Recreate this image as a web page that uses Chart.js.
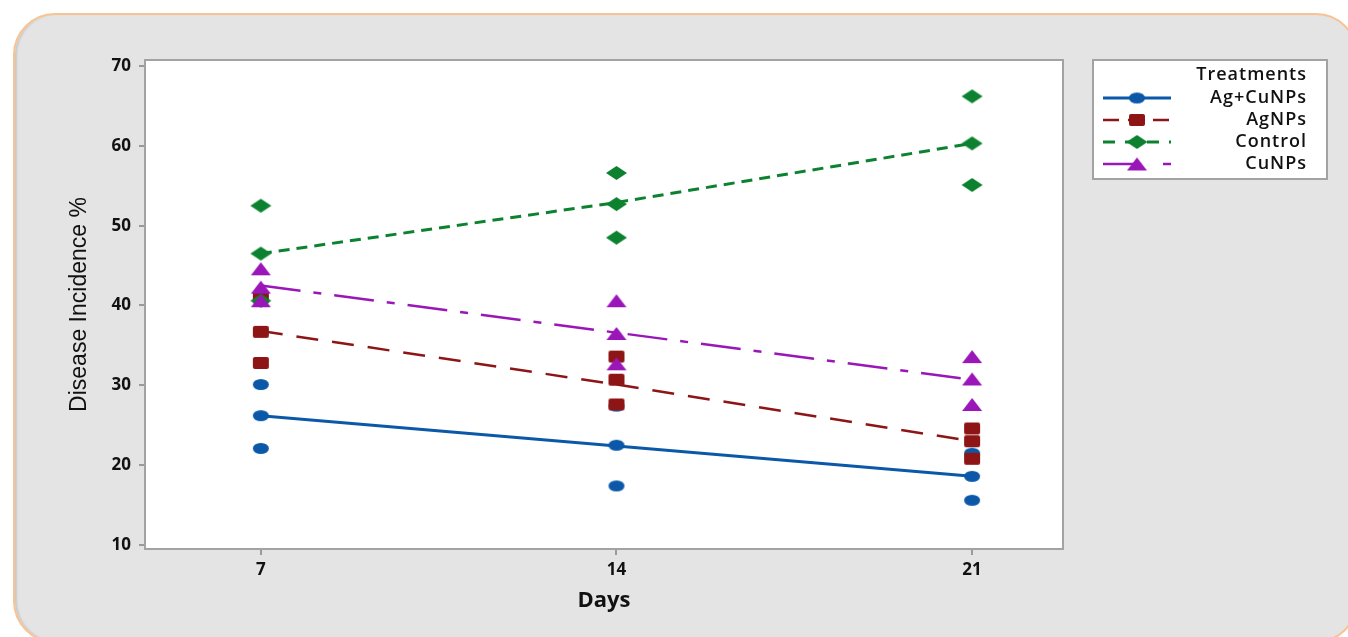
<!DOCTYPE html>
<html>
<head>
<meta charset="utf-8">
<script src="https://cdn.jsdelivr.net/npm/chart.js@4.4.0/dist/chart.umd.min.js"></script>
<style>
html, body { margin: 0; padding: 0; background: #fff; width: 1348px; height: 637px; overflow: hidden; }
#panel {
  position: absolute; left: 13px; top: 13px; width: 1345px; height: 630px;
  box-sizing: border-box; background: #e4e4e4;
  border: 2px solid #f8c393; border-radius: 42px;
  box-shadow: inset 3px 0 2px -1px #c9c9c9;
}
#chart { position: absolute; left: 0; top: 0; }
</style>
</head>
<body>
<div id="panel"></div>
<canvas id="chart" width="1348" height="637"></canvas>
<script>
/* values */
const days = [7, 14, 21];
const xTicks = [7, 14, 21];
const yTicks = [10, 20, 30, 40, 50, 60, 70];
const treatments = ["Ag+CuNPs", "AgNPs", "Control", "CuNPs"];

// three replicates per day (7, 14, 21)
const agcuPoints = [[30.1, 26.2, 22.1], [27.4, 22.5, 17.4], [21.5, 18.6, 15.6]];
const agPoints = [[41.0, 36.7, 32.8], [33.6, 30.7, 27.6], [24.6, 23.0, 20.8]];
const controlPoints = [[52.5, 46.5, 40.6], [56.6, 52.7, 48.5], [66.2, 60.3, 55.1]];
const cuPoints = [[44.6, 42.3, 40.6], [40.6, 36.5, 32.7], [33.6, 30.8, 27.6]];

// mean lines
const agcuMean = [26.2, 22.4, 18.6];
const agMean = [36.8, 30.1, 23.0];
const controlMean = [46.5, 52.9, 60.3];
const cuMean = [42.5, 36.6, 30.7];

const looks = [
  { color: "#0b58a8", dash: [], width: 3, shape: "circle", w: 16, h: 11 },
  { color: "#8e1515", dash: [22, 14], width: 2.5, shape: "square", w: 16, h: 12 },
  { color: "#0c8230", dash: [11, 7], width: 3, shape: "diamond", w: 21, h: 14 },
  { color: "#9a16b8", dash: [40, 13, 8, 13], width: 2.5, shape: "triangle", w: 20, h: 13 }
];
// legend sample dashes (drawn over a short 68px stroke)
const legendDash = [[], [16, 9], [12, 10], [36, 24, 10, 30]];

function makeMarker(shape, color, w, h) {
  const c = document.createElement("canvas");
  c.width = w + 2; c.height = h + 2;
  const g = c.getContext("2d");
  g.translate(1, 1);
  g.fillStyle = color;
  g.beginPath();
  if (shape === "circle") g.ellipse(w / 2, h / 2, w / 2, h / 2, 0, 0, Math.PI * 2);
  else if (shape === "square") g.roundRect(0, 0, w, h, 2);
  else if (shape === "diamond") { g.moveTo(w / 2, 0); g.lineTo(w, h / 2); g.lineTo(w / 2, h); g.lineTo(0, h / 2); g.closePath(); }
  else { g.moveTo(w / 2, 0); g.lineTo(w, h); g.lineTo(0, h); g.closePath(); }
  g.fill();
  return c;
}
const markers = looks.map(l => makeMarker(l.shape, l.color, l.w, l.h));

const allPoints = [agcuPoints, agPoints, controlPoints, cuPoints];
const allMeans = [agcuMean, agMean, controlMean, cuMean];

const datasets = [];
treatments.forEach((name, i) => {
  const pts = [];
  days.forEach((d, j) => allPoints[i][j].forEach(v => pts.push({ x: d, y: v })));
  datasets.push({
    label: name, data: pts, showLine: false,
    pointStyle: markers[i], pointRadius: 8, pointHoverRadius: 8,
    order: 8 - i
  });
  datasets.push({
    label: name + " mean", data: days.map((d, j) => ({ x: d, y: allMeans[i][j] })),
    showLine: true, borderColor: looks[i].color, borderWidth: looks[i].width,
    borderDash: looks[i].dash, pointRadius: 0, fill: false,
    order: 12 - i
  });
});

const framePlugin = {
  id: "frame",
  beforeDatasetsDraw(chart) {
    const a = chart.chartArea, ctx = chart.ctx;
    ctx.save();
    ctx.fillStyle = "#ffffff";
    ctx.fillRect(a.left, a.top, a.right - a.left, a.bottom - a.top);
    ctx.restore();
  },
  afterDraw(chart) {
    const a = chart.chartArea, ctx = chart.ctx;
    ctx.save();
    ctx.strokeStyle = "#a3a3a3";
    ctx.lineWidth = 2;
    ctx.strokeRect(a.left, a.top, a.right - a.left, a.bottom - a.top);

    // legend box
    const bx = 1093, by = 60, bw = 234, bh = 119;
    ctx.fillStyle = "#ffffff";
    ctx.fillRect(bx, by, bw, bh);
    ctx.strokeRect(bx, by, bw, bh);
    ctx.fillStyle = "#111";
    ctx.font = "600 18px 'Open Sans'";
    ctx.letterSpacing = "1px";
    ctx.textAlign = "right";
    ctx.textBaseline = "middle";
    ctx.fillText("Treatments", 1307, 75);
    treatments.forEach((name, i) => {
      const y = 98 + i * 22;
      const l = looks[i];
      ctx.strokeStyle = l.color;
      ctx.lineWidth = l.width;
      ctx.setLineDash(legendDash[i]);
      ctx.beginPath();
      ctx.moveTo(1103, y); ctx.lineTo(1171, y);
      ctx.stroke();
      ctx.setLineDash([]);
      const m = markers[i];
      ctx.drawImage(m, 1137 - m.width / 2, y - m.height / 2);
      ctx.fillStyle = "#111";
      ctx.fillText(name, 1307, y);
    });
    ctx.restore();
  }
};

const tickFont = { family: "'Open Sans'", size: 17, weight: "bold" };

new Chart(document.getElementById("chart"), {
  type: "scatter",
  data: { datasets },
  options: {
    responsive: false,
    animation: false,
    devicePixelRatio: 1,
    layout: { padding: { left: 0, top: 60, right: 285, bottom: 0 } },
    plugins: { legend: { display: false }, tooltip: { enabled: false } },
    events: [],
    scales: {
      x: {
        type: "linear", min: 4.72, max: 22.79,
        afterBuildTicks: s => { s.ticks = xTicks.map(v => ({ value: v })); },
        afterFit: s => { s.height = 88; },
        border: { display: false },
        grid: { drawOnChartArea: false, drawTicks: true, tickLength: 6, color: "#9a9a9a", lineWidth: 2 },
        ticks: { color: "#111", font: tickFont, padding: 5, callback: v => v },
        title: { display: true, text: "Days", color: "#111", font: { family: "'Open Sans'", size: 22, weight: "bold" }, padding: { top: 0, bottom: 23 } }
      },
      y: {
        type: "linear", min: 9.5, max: 70.75,
        afterBuildTicks: s => { s.ticks = yTicks.map(v => ({ value: v })); },
        afterFit: s => { s.width = 145; },
        border: { display: false },
        grid: { drawOnChartArea: false, drawTicks: true, tickLength: 6, color: "#9a9a9a", lineWidth: 2 },
        ticks: { color: "#111", font: tickFont, padding: 8, callback: v => v },
        title: { display: true, text: "Disease Incidence %", color: "#111", font: { family: "'Liberation Sans'", size: 23 }, padding: { top: 66, bottom: 0 } }
      }
    }
  },
  plugins: [framePlugin]
});
</script>
</body>
</html>
